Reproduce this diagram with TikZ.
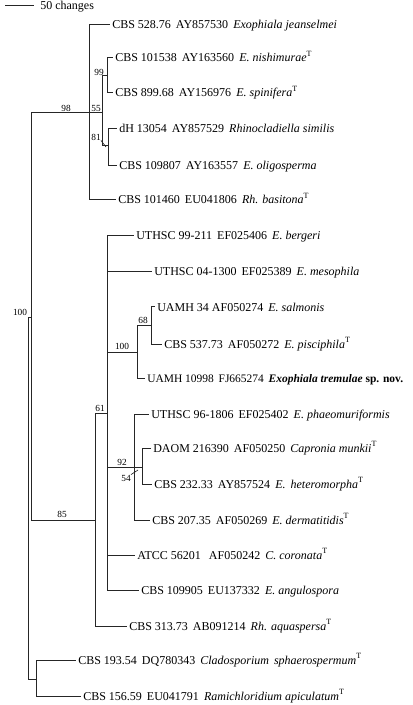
\documentclass[tikz,border=0pt]{standalone}
\usepackage{fontspec}
\setmainfont{Liberation Serif}
\newcommand{\gp}{\hspace{0.42em}}
\begin{document}
\begin{tikzpicture}[x=0.75pt,y=-0.75pt,
  br/.style={line width=0.75pt, draw=black!85},
  leaf/.style={anchor=base west, inner sep=0pt, xshift=1.5pt, yshift=-3pt, font=\fontsize{9}{10}\selectfont},
  bs/.style={inner sep=0pt, font=\fontsize{7}{8}\selectfont}]
\useasboundingbox (0,0) rectangle (413,705);
% scale bar
\coordinate (s1) at (5,6);
\coordinate (s2) at (34,6);
\draw[br] (s1) -- (s2);
\node[leaf, xshift=3pt] (sl) at (s2) {50 changes};
% internal nodes
\coordinate (r) at (28,317);
\coordinate (ni) at (31,317);
\coordinate (nout) at (36,679);
\coordinate (n98) at (89,113);
\coordinate (n55) at (102,113);
\coordinate (n99) at (107,76);
\coordinate (n81) at (108,146);
\coordinate (n85) at (95,520);
\coordinate (n61) at (107,413);
\coordinate (n100) at (137,352);
\coordinate (n68) at (151,325);
\coordinate (n92) at (134,467);
\coordinate (n54) at (142,467);
% tips
\coordinate (t1) at (110,25);
\coordinate (t2) at (113,58);
\coordinate (t3) at (113,93);
\coordinate (t4) at (117,129);
\coordinate (t5) at (117,166);
\coordinate (t6) at (116,200);
\coordinate (t7) at (134,236);
\coordinate (t8) at (152,272);
\coordinate (t9) at (155,307);
\coordinate (t10) at (162,344);
\coordinate (t11) at (145,378);
\coordinate (t12) at (149,414);
\coordinate (t13) at (151,448);
\coordinate (t14) at (152,484);
\coordinate (t15) at (150,520);
\coordinate (t16) at (135,555);
\coordinate (t17) at (139,590);
\coordinate (t18) at (127,626);
\coordinate (t19) at (76,660);
\coordinate (t20) at (81,696);
% branches
\draw[br] (r) -- (ni);
\draw[br] (r) |- (nout);
\draw[br] (ni) |- (n98);
\draw[br] (ni) |- (n85);
\draw[br] (nout) |- (t19);
\draw[br] (nout) |- (t20);
\draw[br] (n98) |- (t1);
\draw[br] (n98) -- (n55);
\draw[br] (n98) |- (t6);
\draw[br] (n55) |- (n99);
\draw[br] (n55) |- (n81);
\draw[br] (n99) |- (t2);
\draw[br] (n99) |- (t3);
\draw[br] (n81) |- (t4);
\draw[br] (n81) |- (t5);
\draw[br] (n85) |- (n61);
\draw[br] (n85) |- (t18);
\draw[br] (n61) |- (t7);
\draw[br] (n61) |- (t8);
\draw[br] (n61) |- (n100);
\draw[br] (n61) |- (n92);
\draw[br] (n61) |- (t16);
\draw[br] (n61) |- (t17);
\draw[br] (n100) |- (n68);
\draw[br] (n100) |- (t11);
\draw[br] (n68) |- (t9);
\draw[br] (n68) |- (t10);
\draw[br] (n92) |- (t12);
\draw[br] (n92) -- (n54);
\draw[br] (n92) |- (t15);
\draw[br] (n54) |- (t13);
\draw[br] (n54) |- (t14);
% leaves
\node[leaf] (l1) at (t1) {CBS 528.76\gp AY857530\gp \textit{Exophiala jeanselmei}};
\node[leaf] (l2) at (t2) {CBS 101538\gp AY163560\gp \textit{E. nishimurae}\textsuperscript{T}};
\node[leaf] (l3) at (t3) {CBS 899.68\gp AY156976\gp \textit{E. spinifera}\textsuperscript{T}};
\node[leaf] (l4) at (t4) {dH 13054\gp AY857529\gp \textit{Rhinocladiella similis}};
\node[leaf] (l5) at (t5) {CBS 109807\gp AY163557\gp \textit{E. oligosperma}};
\node[leaf] (l6) at (t6) {CBS 101460\gp EU041806\gp \textit{Rh. basitona}\textsuperscript{T}};
\node[leaf] (l7) at (t7) {UTHSC 99-211\gp EF025406\gp \textit{E. bergeri}};
\node[leaf] (l8) at (t8) {UTHSC 04-1300\gp EF025389\gp \textit{E. mesophila}};
\node[leaf] (l9) at (t9) {UAMH 34 AF050274\gp \textit{E. salmonis}};
\node[leaf] (l10) at (t10) {CBS 537.73\gp AF050272\gp \textit{E. pisciphila}\textsuperscript{T}};
\node[leaf, font=\fontsize{8.6}{10}\selectfont] (l11) at (t11) {UAMH 10998\gp FJ665274\gp \textbf{\textit{Exophiala tremulae}} \textbf{sp. nov.}};
\node[leaf] (l12) at (t12) {UTHSC 96-1806\gp EF025402\gp \textit{E. phaeomuriformis}};
\node[leaf] (l13) at (t13) {DAOM 216390\gp AF050250\gp \textit{Capronia munkii}\textsuperscript{T}};
\node[leaf] (l14) at (t14) {CBS 232.33\gp AY857524\gp \textit{E.\gp heteromorpha}\textsuperscript{T}};
\node[leaf] (l15) at (t15) {CBS 207.35\gp AF050269\gp \textit{E. dermatitidis}\textsuperscript{T}};
\node[leaf] (l16) at (t16) {ATCC 56201\gp\ AF050242\gp \textit{C. coronata}\textsuperscript{T}};
\node[leaf] (l17) at (t17) {CBS 109905\gp EU137332\gp \textit{E. angulospora}};
\node[leaf] (l18) at (t18) {CBS 313.73\gp AB091214\gp \textit{Rh. aquaspersa}\textsuperscript{T}};
\node[leaf] (l19) at (t19) {CBS 193.54\gp DQ780343\gp \textit{Cladosporium\gp sphaerospermum}\textsuperscript{T}};
\node[leaf] (l20) at (t20) {CBS 156.59\gp EU041791\gp \textit{Ramichloridium apiculatum}\textsuperscript{T}};
% bootstrap labels
\node[bs] (b100r) at (20,312) {100};
\node[bs] (b98) at (66,108) {98};
\node[bs] (b55) at (96,108) {55};
\node[bs] (b99) at (99,72) {99};
\node[bs] (b81) at (96,137) {81};
\node[bs] (b85) at (62,514) {85};
\node[bs] (b61) at (100,408) {61};
\node[bs] (b100) at (122,346) {100};
\node[bs] (b68) at (143,320) {68};
\node[bs] (b92) at (122,462) {92};
\node[bs] (b54) at (126,478) {54};
% leader lines
\coordinate (k81) at (106,147);
\coordinate (k54) at (138,470);
\draw[br, line width=0.5pt] (b81.south east) -- (k81);
\draw[br, line width=0.5pt] (b54.north east) -- (k54);
\end{tikzpicture}
\end{document}
